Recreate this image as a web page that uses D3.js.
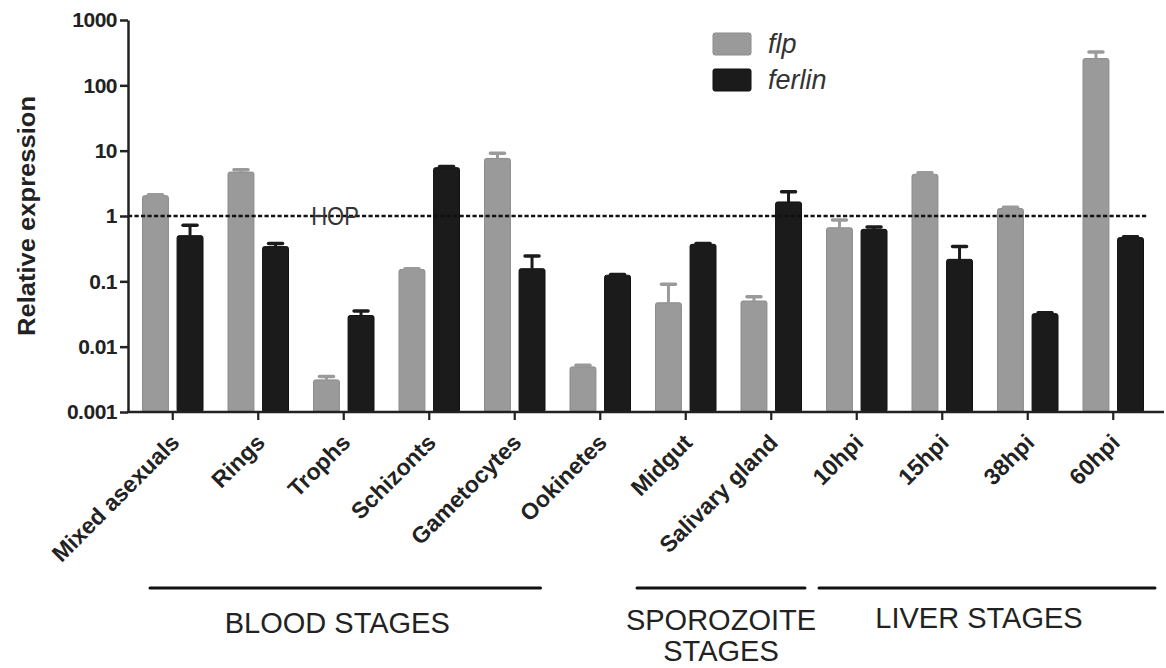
<!DOCTYPE html>
<html>
<head>
<meta charset="utf-8">
<script src="https://cdn.jsdelivr.net/npm/d3@7"></script>
<style>
  html, body { margin: 0; padding: 0; background: #fff; }
  svg { display: block; font-family: "Liberation Sans", Arial, Helvetica, sans-serif; }
</style>
</head>
<body>
<svg id="chart" width="1166" height="668"></svg>
<script>
// ---------------- DATA ----------------
const categories = ["Mixed asexuals", "Rings", "Trophs", "Schizonts", "Gametocytes", "Ookinetes",
                    "Midgut", "Salivary gland", "10hpi", "15hpi", "38hpi", "60hpi"];
const seriesNames = ["flp", "ferlin"];
const flpValues    = [2.05, 4.7, 0.0031, 0.152, 7.6, 0.0049, 0.047, 0.050, 0.66, 4.35, 1.30, 257];
const flpUpper     = [2.12, 5.1, 0.0035, 0.156, 9.1, 0.0052, 0.090, 0.058, 0.87, 4.6, 1.36, 325];
const ferlinValues = [0.50, 0.34, 0.030, 5.5, 0.156, 0.124, 0.369, 1.64, 0.625, 0.217, 0.032, 0.467];
const ferlinUpper  = [0.72, 0.38, 0.035, 5.7, 0.244, 0.127, 0.38, 2.36, 0.68, 0.34, 0.033, 0.48];
const yTickValues  = [0.001, 0.01, 0.1, 1, 10, 100, 1000];
const yTickLabels  = ["0.001", "0.01", "0.1", "1", "10", "100", "1000"];
const groupNames   = [["BLOOD STAGES"], ["SPOROZOITE", "STAGES"], ["LIVER STAGES"]];
const groupFirst   = ["Mixed asexuals", "Midgut", "10hpi"];
const groupLast    = ["Gametocytes", "Salivary gland", "60hpi"];
const refLineValue = 1;
const refLineLabel = "HOP";

// ---------------- LAYOUT ----------------
const svg = d3.select("#chart");
const colors = { flp: "#9a9a9a", ferlin: "#1b1b1b" };
const strokes = { flp: "#8c8c8c", ferlin: "#111" };
const textColor = "#222";

const y = d3.scaleLog().domain([0.001, 1000]).range([412, 20]);
const x = d3.scaleBand().domain(categories).range([130, 1156]).padding(0);
const x1 = d3.scaleBand().domain(seriesNames).range([12.5, 73]).paddingInner(0.25);

const seriesData = {
  flp: categories.map((c, i) => ({ cat: c, v: flpValues[i], up: flpUpper[i] })),
  ferlin: categories.map((c, i) => ({ cat: c, v: ferlinValues[i], up: ferlinUpper[i] }))
};

// Bars
seriesNames.forEach(s => {
  const g = svg.append("g");
  g.selectAll("rect").data(seriesData[s]).join("rect")
    .attr("x", d => x(d.cat) + x1(s))
    .attr("width", x1.bandwidth())
    .attr("y", d => y(d.v))
    .attr("height", d => y(0.001) - y(d.v))
    .attr("rx", 2)
    .attr("fill", colors[s])
    .attr("stroke", strokes[s])
    .attr("stroke-width", 1);
  g.selectAll("line.stem").data(seriesData[s]).join("line")
    .attr("class", "stem")
    .attr("x1", d => x(d.cat) + x1(s) + x1.bandwidth() / 2)
    .attr("x2", d => x(d.cat) + x1(s) + x1.bandwidth() / 2)
    .attr("y1", d => y(d.v))
    .attr("y2", d => y(d.up))
    .attr("stroke", colors[s]).attr("stroke-width", 3);
  g.selectAll("line.cap").data(seriesData[s]).join("line")
    .attr("class", "cap")
    .attr("x1", d => x(d.cat) + x1(s) + x1.bandwidth() / 2 - 7)
    .attr("x2", d => x(d.cat) + x1(s) + x1.bandwidth() / 2 + 7)
    .attr("y1", d => y(d.up))
    .attr("y2", d => y(d.up))
    .attr("stroke", colors[s]).attr("stroke-width", 3.5)
    .attr("stroke-linecap", "round");
});

// Reference dashed line
svg.append("line")
  .attr("x1", 128).attr("x2", 1147)
  .attr("y1", y(refLineValue)).attr("y2", y(refLineValue))
  .attr("stroke", "#111").attr("stroke-width", 2.6)
  .attr("stroke-dasharray", "4.2,2.3");
svg.append("text")
  .attr("transform", `translate(335,${y(refLineValue) + 9}) scale(1,1.15)`)
  .attr("text-anchor", "middle")
  .attr("font-size", 22)
  .attr("fill", "#333")
  .text(refLineLabel);

// Y axis
const yAxis = d3.axisLeft(y).tickValues(yTickValues)
  .tickFormat((d, i) => yTickLabels[i]).tickSize(8).tickSizeOuter(0).tickPadding(3);
const gy = svg.append("g").attr("transform", "translate(128,0)").call(yAxis);
gy.select(".domain").attr("stroke", "#222").attr("stroke-width", 2.5);
gy.selectAll(".tick line").attr("stroke", "#222").attr("stroke-width", 2.5);
gy.selectAll(".tick text").attr("font-size", 21).attr("font-weight", "bold")
  .attr("fill", textColor).attr("font-family", "Liberation Sans, Arial, sans-serif")
  .attr("letter-spacing", -0.5);

// X axis
const xAxis = d3.axisBottom(x).tickSize(8).tickSizeOuter(0).tickFormat("");
const gx = svg.append("g").attr("transform", "translate(0,412)").call(xAxis);
gx.select(".domain").remove();
gx.selectAll(".tick line").attr("stroke", "#222").attr("stroke-width", 2.2);
svg.append("line").attr("x1", 127).attr("x2", 1164).attr("y1", 412).attr("y2", 412)
  .attr("stroke", "#222").attr("stroke-width", 2.5);

// X tick labels (rotated)
svg.append("g").selectAll("text").data(categories).join("text")
  .attr("transform", d => `translate(${x(d) + x.bandwidth() / 2 + 8},444) rotate(-45)`)
  .attr("text-anchor", "end")
  .attr("font-size", 23)
  .attr("font-weight", "bold")
  .attr("fill", textColor)
  .text(d => d);

// Y axis title
svg.append("text")
  .attr("transform", "translate(35,216) rotate(-90)")
  .attr("text-anchor", "middle")
  .attr("font-size", 23)
  .attr("font-weight", "bold")
  .attr("fill", textColor)
  .attr("textLength", 240)
  .attr("lengthAdjust", "spacingAndGlyphs")
  .text("Relative expression");

// Legend
const legend = svg.append("g");
seriesNames.forEach((s, i) => {
  legend.append("rect")
    .attr("x", 713).attr("y", 33 + i * 36).attr("width", 38).attr("height", 22).attr("rx", 2)
    .attr("fill", colors[s]).attr("stroke", strokes[s]).attr("stroke-width", 1);
  legend.append("text")
    .attr("x", 768).attr("y", 53 + i * 36)
    .attr("font-size", 27).attr("font-style", "italic")
    .attr("fill", "#333")
    .text(s);
});

// Group brackets
const groupPads = [[20, 17], [-6, 9], [5, 1]];
const groupBaselines = [633, 630, 628];
groupNames.forEach((lines, i) => {
  const x0 = x(groupFirst[i]) + groupPads[i][0];
  const x2 = x(groupLast[i]) + x.bandwidth() - groupPads[i][1];
  svg.append("line").attr("x1", x0).attr("x2", x2).attr("y1", 588).attr("y2", 588)
    .attr("stroke", "#111").attr("stroke-width", 3).attr("stroke-linecap", "round");
  const cx = (x0 + x2) / 2 - (lines.length > 1 ? 0 : 8);
  const t = svg.append("text").attr("text-anchor", "middle")
    .attr("font-size", 29).attr("fill", textColor);
  lines.forEach((ln, j) => {
    t.append("tspan").attr("x", cx).attr("y", groupBaselines[i] + j * 31).text(ln);
  });
});
</script>
</body>
</html>
